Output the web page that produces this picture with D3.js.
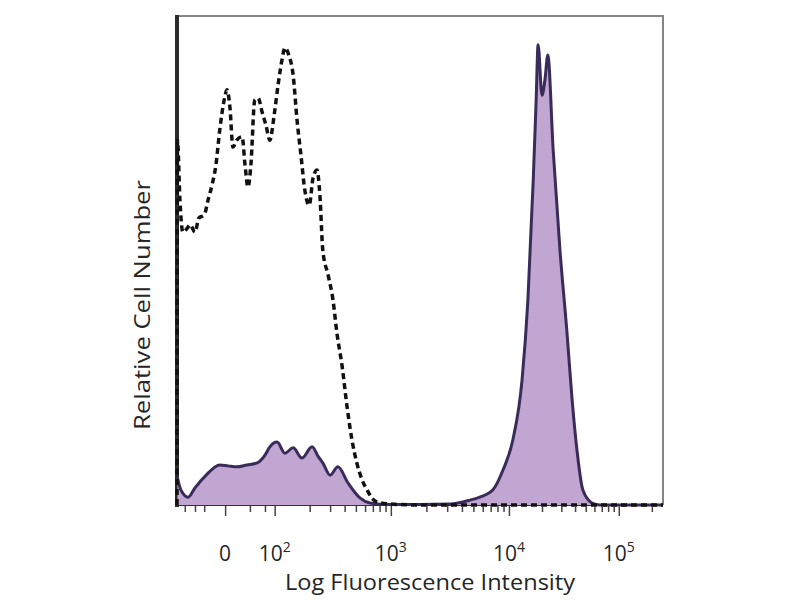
<!DOCTYPE html>
<html>
<head>
<meta charset="utf-8">
<script src="https://cdn.jsdelivr.net/npm/d3@7"></script>
<style>
  html, body { margin: 0; padding: 0; background: #fff; }
  svg { display: block; }
</style>
</head>
<body>
<div id="chart"></div>
<script>
// x is in display channels (0..1000 across the biexponential axis), y is % of max count
const stainedX = [1, 8, 23, 37, 58, 88, 105, 123, 144, 165, 181, 191, 206, 222, 239, 257, 278, 290, 300, 315,
  331, 352, 377, 397, 428, 500, 562, 603, 623, 650, 671, 691, 710, 722, 733, 739, 743, 751, 757, 763,
  774, 788, 802, 813, 823, 835, 854, 870, 1000];
const stainedY = [5.5, 3.1, 1.6, 3.5, 5.9, 8.2, 8.0, 7.8, 8.2, 8.6, 10.2, 11.9, 12.9, 10.6, 11.7, 9.6, 11.9, 10.0, 8.6, 6.1,
  7.8, 4.5, 1.4, 0.4, 0.1, 0.1, 0.2, 1.0, 1.6, 3.1, 7.2, 13.3, 25.6, 41.9, 66.5, 82.8, 94.1, 83.8, 86.9, 92.0,
  72.6, 52.1, 35.8, 21.5, 11.2, 3.1, 0.4, 0, 0];

const controlX = [0, 1, 6, 12, 21, 27, 37, 45, 56, 64, 72, 80, 88, 97, 103, 109, 115, 123, 134, 140,
  146, 152, 160, 167, 175, 183, 191, 200, 208, 216, 222, 230, 239, 247, 255, 263, 272, 280, 288, 294,
  300, 311, 321, 329, 340, 350, 360, 370, 381, 391, 401, 412, 438, 500, 1000];
const controlY = [0, 74.6, 62.4, 55.8, 56.6, 57.3, 55.8, 58.7, 59.3, 62.4, 65.4, 69.5, 76.7, 82.8, 84.9, 81.2, 73.2, 74.6, 75.3, 69.5,
  65.0, 69.5, 82.8, 83.2, 80.4, 77.7, 74.6, 79.8, 85.9, 91.0, 93.5, 92.0, 87.9, 78.7, 71.6, 64.4, 61.3, 66.9, 68.5, 63.4,
  52.1, 47.0, 41.9, 35.2, 28.2, 20.0, 13.3, 8.6, 5.1, 3.1, 1.4, 0.6, 0.2, 0, 0];

const majorTicks = [99, 201, 440, 683, 909];
const tickBases = ['0', '10', '10', '10', '10'];
const tickExponents = ['', '2', '3', '4', '5'];
const linearMinorTicks = [16, 37, 56, 150, 181];

const xTitle = 'Log Fluorescence Intensity';
const yTitle = 'Relative Cell Number';

const width = 800;
const height = 600;
const plot = {left: 177, right: 663, top: 16, bottom: 505};
const textColor = '#262626';
const fillColor = '#c0a6d0';
const lineColor = '#3a2c5a';
const fontFamily = '"Open Sans", "DejaVu Sans", sans-serif';

function logMinorTicks() {
  const ticks = [...linearMinorTicks];
  for (let i = 1; i < majorTicks.length; i++) {
    const a = majorTicks[i];
    const span = i < majorTicks.length - 1 ? majorTicks[i + 1] - a : majorTicks[i] - majorTicks[i - 1];
    for (let m = 2; m <= 9; m++) {
      const t = a + Math.log10(m) * span;
      if (t <= 1000) ticks.push(t);
    }
  }
  return ticks;
}

function renderAxis({svg, xScale}) {
  const minorAxis = d3.axisBottom(xScale).tickValues(logMinorTicks()).tickSize(6).tickFormat('');
  const majorAxis = d3.axisBottom(xScale).tickValues(majorTicks).tickSize(10).tickFormat('');

  [minorAxis, majorAxis].forEach(axis => {
    const el = svg.append('g')
      .attr('class', 'chart__x-axis')
      .attr('transform', `translate(0, ${plot.bottom + 1})`)
      .call(axis);
    el.select('path').remove();
    el.selectAll('line').attr('stroke', '#444').attr('stroke-width', 1.5);
  });

  const labels = svg.append('g').attr('class', 'chart__x-labels');
  majorTicks.forEach((ch, i) => {
    const text = labels.append('text')
      .attr('x', xScale(ch))
      .attr('y', 561)
      .attr('text-anchor', 'middle')
      .style('font-family', fontFamily)
      .style('font-size', '21px')
      .attr('fill', textColor);
    text.append('tspan').text(tickBases[i]);
    if (tickExponents[i]) {
      text.append('tspan')
        .attr('dy', -9)
        .style('font-size', '14px')
        .text(tickExponents[i]);
    }
  });

  svg.append('text')
    .attr('x', 430)
    .attr('y', 590)
    .attr('text-anchor', 'middle')
    .attr('textLength', 290)
    .attr('lengthAdjust', 'spacingAndGlyphs')
    .style('font-family', fontFamily)
    .style('font-size', '21px')
    .attr('fill', textColor)
    .text(xTitle);

  svg.append('text')
    .attr('transform', 'translate(150, 305) rotate(-90)')
    .attr('text-anchor', 'middle')
    .attr('textLength', 250)
    .attr('lengthAdjust', 'spacingAndGlyphs')
    .style('font-family', fontFamily)
    .style('font-size', '21px')
    .attr('fill', textColor)
    .text(yTitle);
}

function renderFrame(svg) {
  svg.append('path')
    .attr('d', `M${plot.left},${plot.top}H${plot.right}V${plot.bottom}`)
    .attr('fill', 'none')
    .attr('stroke', '#858585')
    .attr('stroke-width', 2);

  svg.append('line')
    .attr('x1', plot.left).attr('x2', plot.right)
    .attr('y1', plot.bottom).attr('y2', plot.bottom)
    .attr('stroke', '#333')
    .attr('stroke-width', 2);

  svg.append('line')
    .attr('x1', plot.left).attr('x2', plot.left)
    .attr('y1', plot.top - 1).attr('y2', plot.bottom + 2)
    .attr('stroke', '#2b2b2b')
    .attr('stroke-width', 4);
}

function histogram({selector}) {
  const xScale = d3.scaleLinear().domain([0, 1000]).range([plot.left, plot.right]);
  const yScale = d3.scaleLinear().domain([0, 100]).range([plot.bottom, plot.top]);

  const svg = d3.select(selector)
    .append('svg')
    .attr('width', width)
    .attr('height', height);

  svg.append('rect').attr('width', width).attr('height', height).attr('fill', '#fff');

  const stained = stainedX.map((x, i) => ({x, y: stainedY[i]}));
  const control = controlX.map((x, i) => ({x, y: controlY[i]}));

  const area = d3.area()
    .x(d => xScale(d.x))
    .y0(yScale(0))
    .y1(d => yScale(d.y))
    .curve(d3.curveMonotoneX);

  const line = d3.line()
    .x(d => xScale(d.x))
    .y(d => yScale(d.y))
    .curve(d3.curveMonotoneX);

  renderFrame(svg);

  svg.append('path')
    .datum(stained)
    .attr('fill', fillColor)
    .attr('d', area);

  svg.append('path')
    .datum(stained)
    .attr('fill', 'none')
    .attr('stroke', lineColor)
    .attr('stroke-width', 3)
    .attr('stroke-linejoin', 'round')
    .attr('d', line);

  svg.append('path')
    .datum(control)
    .attr('fill', 'none')
    .attr('stroke', '#111')
    .attr('stroke-width', 3.5)
    .attr('stroke-dasharray', '6,4')
    .attr('d', line);

  renderAxis({svg, xScale});
}

histogram({selector: '#chart'});
</script>
</body>
</html>
